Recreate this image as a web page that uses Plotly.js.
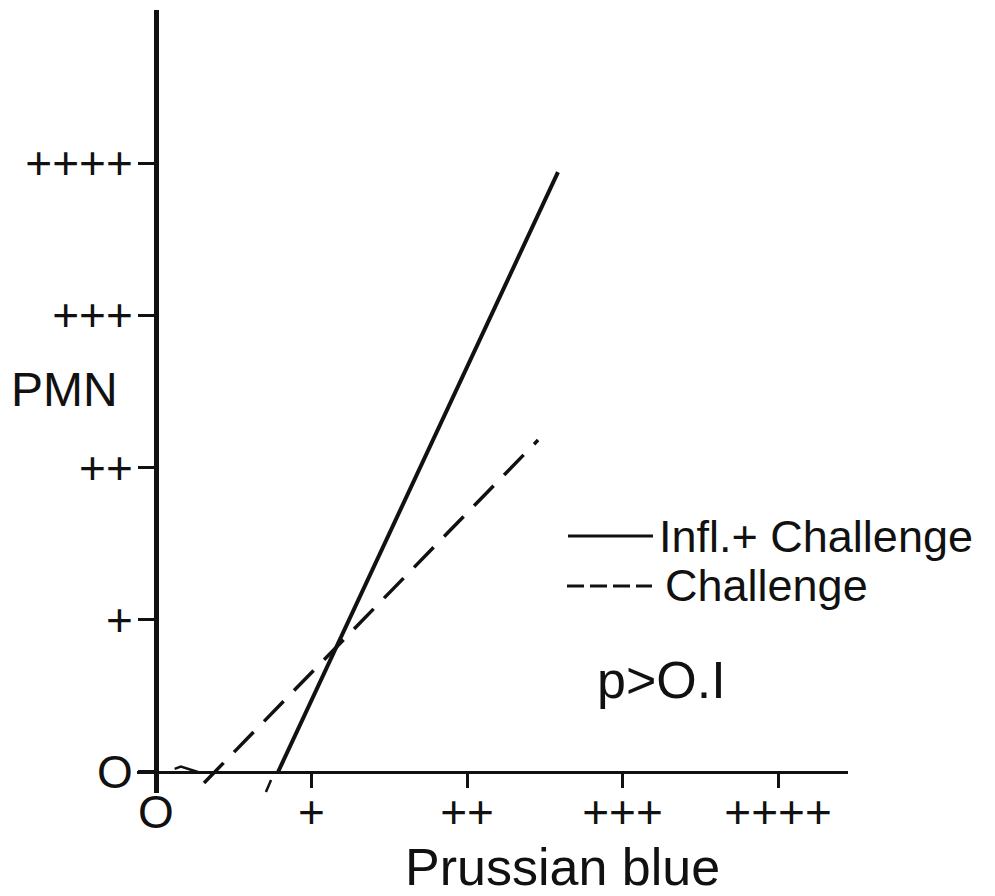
<!DOCTYPE html>
<html>
<head>
<meta charset="utf-8">
<script src="https://cdn.plot.ly/plotly-3.0.1.min.js"></script>
<style>html,body{margin:0;padding:0;background:#fff;}#chart{width:995px;height:896px;}</style>
</head>
<body>
<div id="chart"></div>
<script>
// Category levels (0, +, ++, +++, ++++) coded as 0..4
const tickVals = [0, 1, 2, 3, 4];
const tickText = ['O', '+', '++', '+++', '++++'];

// Infl. + Challenge (solid line)
const inflX = [0.785, 2.585];
const inflY = [0.0, 3.94];
// short stub of the solid line drawn below the x-axis
const inflStubX = [0.74, 0.707];
const inflStubY = [-0.053, -0.131];

// Challenge (dashed line)
const chalX = [0.309, 2.457];
const chalY = [-0.072, 2.18];
// small squiggle near the origin
const squigX = [0.12, 0.16, 0.27];
const squigY = [0.02, 0.035, 0.0];

const xRange = [-0.122, 4.45];
const yRange = [-0.138, 5.005];

const F = 'Liberation Sans, Arial, sans-serif';
const ink = '#111';

const traces = [
  {x: inflX, y: inflY, mode: 'lines', line: {color: ink, width: 4}, showlegend: false, hoverinfo: 'skip'},
  {x: inflStubX, y: inflStubY, mode: 'lines', line: {color: ink, width: 2.5}, showlegend: false, hoverinfo: 'skip'},
  {x: chalX, y: chalY, mode: 'lines', line: {color: ink, width: 3.5, dash: '28px,15px'}, showlegend: false, hoverinfo: 'skip'},
  {x: squigX, y: squigY, mode: 'lines', line: {color: ink, width: 2.5}, showlegend: false, hoverinfo: 'skip'}
];

const xPos = (0 - yRange[0]) / (yRange[1] - yRange[0]);
const yPos = (0 - xRange[0]) / (xRange[1] - xRange[0]);

const layout = {
  width: 995, height: 896,
  margin: {l: 137, r: 147, t: 10, b: 103},
  paper_bgcolor: '#fff', plot_bgcolor: '#fff',
  showlegend: false,
  xaxis: {
    range: xRange, anchor: 'free', position: xPos,
    showline: true, linewidth: 3, linecolor: ink,
    ticks: 'outside', ticklen: 14, tickwidth: 3, tickcolor: ink,
    tickvals: tickVals, ticktext: tickText, ticklabelstandoff: -15,
    tickfont: {family: F, size: 46, color: ink},
    showgrid: false, zeroline: false, fixedrange: true
  },
  yaxis: {
    range: yRange, anchor: 'free', position: yPos,
    showline: true, linewidth: 5, linecolor: ink,
    ticks: 'outside', ticklen: 16, tickwidth: 3, tickcolor: ink,
    tickvals: tickVals, ticktext: tickText, ticklabelstandoff: -4,
    tickfont: {family: F, size: 46, color: ink},
    showgrid: false, zeroline: false, fixedrange: true
  },
  shapes: [
    {type: 'line', xref: 'paper', yref: 'paper', x0: 0.6062, x1: 0.7257, y0: 0.3282, y1: 0.3282,
     line: {color: ink, width: 3}},
    {type: 'line', xref: 'paper', yref: 'paper', x0: 0.6048, x1: 0.7243, y0: 0.2644, y1: 0.2644,
     line: {color: ink, width: 3, dash: '17px,6px'}}
  ],
  annotations: [
    {text: 'PMN', xref: 'paper', yref: 'paper', x: -0.180, y: 0.5147, xanchor: 'left', yanchor: 'middle',
     showarrow: false, font: {family: F, size: 48, color: ink}},
    {text: 'Prussian blue', xref: 'paper', yref: 'paper', x: 0.599, y: -0.094, xanchor: 'center', yanchor: 'middle',
     showarrow: false, font: {family: F, size: 52, color: ink}},
    {text: 'Infl.+ Challenge', xref: 'paper', yref: 'paper', x: 0.7314, y: 0.3282, xanchor: 'left', yanchor: 'middle',
     showarrow: false, font: {family: F, size: 45, color: ink}},
    {text: 'Challenge', xref: 'paper', yref: 'paper', x: 0.7398, y: 0.2644, xanchor: 'left', yanchor: 'middle',
     showarrow: false, font: {family: F, size: 45, color: ink}},
    {text: 'p>O.I', xref: 'paper', yref: 'paper', x: 0.6442, y: 0.1443, xanchor: 'left', yanchor: 'middle',
     showarrow: false, font: {family: F, size: 52, color: ink}}
  ]
};

Plotly.newPlot('chart', traces, layout, {staticPlot: true, displayModeBar: false});
</script>
</body>
</html>
